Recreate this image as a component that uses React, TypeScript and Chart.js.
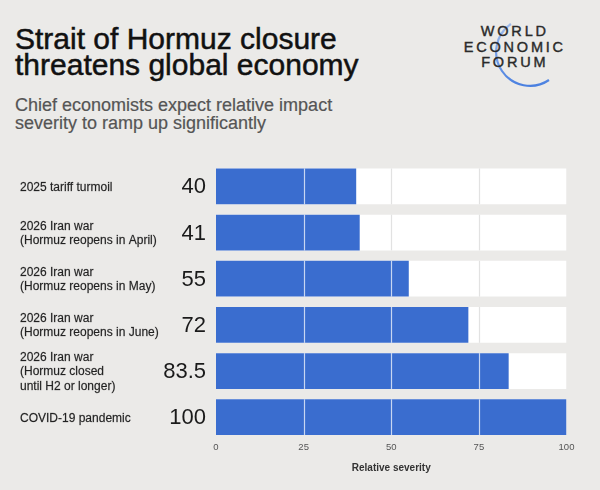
import React, { useEffect, useRef } from "react";
import { Chart, registerables } from "chart.js";

Chart.register(...registerables);

const categories: string[][] = [
  ["2025 tariff turmoil"],
  ["2026 Iran war", "(Hormuz reopens in April)"],
  ["2026 Iran war", "(Hormuz reopens in May)"],
  ["2026 Iran war", "(Hormuz reopens in June)"],
  ["2026 Iran war", "(Hormuz closed", "until H2 or longer)"],
  ["COVID-19 pandemic"],
];
const severity = [40, 41, 55, 72, 83.5, 100];
const valueLabels = ["40", "41", "55", "72", "83.5", "100"];
const trackMax = [100, 100, 100, 100, 100, 100];
const gridValues = [25, 50, 75];

const FONT = '"Liberation Sans", Arial, Helvetica, sans-serif';
const BLUE = "#3a6dcf";
const BG = "#ebeae8";

const gridPlugin = {
  id: "innerGrid",
  afterDatasetsDraw(chart: any) {
    const ctx = chart.ctx;
    const xs = chart.scales.x;
    const meta = chart.getDatasetMeta(1);
    ctx.save();
    meta.data.forEach((el: any, i: number) => {
      const p = el.getProps(["y", "height"], true);
      const top = p.y - p.height / 2;
      const bottom = p.y + p.height / 2;
      gridValues.forEach((v) => {
        const x = Math.round(xs.getPixelForValue(v)) + 0.5;
        ctx.strokeStyle = v < severity[i] ? "rgba(255,255,255,0.72)" : "#e2e2e2";
        ctx.lineWidth = 1.2;
        ctx.beginPath();
        ctx.moveTo(x, top);
        ctx.lineTo(x, bottom);
        ctx.stroke();
      });
    });
    ctx.restore();
  },
};

const labelPlugin = {
  id: "rowLabels",
  afterDraw(chart: any) {
    const ctx = chart.ctx;
    const ys = chart.scales.y;
    ctx.save();
    categories.forEach((lines, i) => {
      const cy = ys.getPixelForValue(i);
      const lh = 14.6;
      const start = cy - ((lines.length - 1) * lh) / 2;
      ctx.font = `12px ${FONT}`;
      ctx.fillStyle = "#222";
      ctx.strokeStyle = "rgba(34,34,34,0.5)";
      ctx.lineWidth = 0.35;
      ctx.textAlign = "left";
      ctx.textBaseline = "middle";
      lines.forEach((t, j) => {
        ctx.fillText(t, 20, start + j * lh + 1);
        ctx.strokeText(t, 20, start + j * lh + 1);
      });
      ctx.font = `22px ${FONT}`;
      ctx.fillStyle = "#1a1a1a";
      ctx.textAlign = "right";
      ctx.fillText(valueLabels[i], 206, cy + 1);
    });
    ctx.restore();
  },
};

export default function App() {
  const ref = useRef<HTMLCanvasElement>(null);
  useEffect(() => {
    if (!ref.current) return;
    const chart = new Chart(ref.current, {
      type: "bar",
      data: {
        labels: categories.map((c) => c.join(" ")),
        datasets: [
          {
            label: "Relative severity",
            data: severity,
            backgroundColor: BLUE,
            borderWidth: 0,
            grouped: false,
            order: 0,
            barPercentage: 0.775,
            categoryPercentage: 1,
          } as any,
          {
            label: "Track",
            data: trackMax,
            backgroundColor: "#ffffff",
            borderWidth: 0,
            grouped: false,
            order: 1,
            barPercentage: 0.775,
            categoryPercentage: 1,
          } as any,
        ],
      },
      options: {
        indexAxis: "y",
        animation: false,
        responsive: false,
        layout: { padding: { left: 216, right: 33.5, top: 163.3, bottom: 15.3 } },
        plugins: { legend: { display: false }, tooltip: { enabled: false } },
        scales: {
          x: {
            min: 0,
            max: 100,
            grid: { display: false, drawTicks: false },
            border: { display: false },
            ticks: {
              stepSize: 25,
              padding: 1,
              color: "#555",
              font: { family: FONT, size: 9.5 },
              maxRotation: 0,
            },
            title: {
              display: true,
              text: "Relative severity",
              color: "#333",
              font: { family: FONT, size: 10, weight: "bold" },
              padding: { top: 8.5, bottom: 0.5 },
            },
          },
          y: {
            display: false,
          },
        },
      },
      plugins: [gridPlugin, labelPlugin],
    });
    return () => chart.destroy();
  }, []);

  return (
    <div
      style={{
        position: "absolute",
        left: 0,
        top: 0,
        width: 600,
        height: 490,
        background: BG,
        overflow: "hidden",
        fontFamily: FONT,
      }}
    >
      <svg
        width={600}
        height={490}
        style={{ position: "absolute", left: 0, top: 0 }}
      >
        <defs>
          <linearGradient id="arcg" x1="0" y1="0" x2="0" y2="1">
            <stop offset="0" stopColor="#8fb0ea" stopOpacity="0.85" />
            <stop offset="0.6" stopColor="#6b98e6" />
            <stop offset="1" stopColor="#4a80e0" />
          </linearGradient>
        </defs>
        <path
          d="M 511 24 A 33 33 0 1 0 549 80"
          fill="none"
          stroke="url(#arcg)"
          strokeWidth={2.2}
        />
      </svg>
      <div
        style={{
          position: "absolute",
          left: 15,
          top: 25.6,
          fontSize: 30,
          lineHeight: "26px",
          color: "#111",
          whiteSpace: "nowrap",
          WebkitTextStroke: "0.5px #111",
        }}
      >
        Strait of Hormuz closure
        <br />
        threatens global economy
      </div>
      <div
        style={{
          position: "absolute",
          left: 15,
          top: 95.5,
          fontSize: 18,
          lineHeight: "18.5px",
          color: "#555",
          whiteSpace: "nowrap",
          WebkitTextStroke: "0.2px #555",
        }}
      >
        Chief economists expect relative impact
        <br />
        severity to ramp up significantly
      </div>
      <div
        style={{
          position: "absolute",
          left: 442,
          top: 24.4,
          width: 140,
          textAlign: "center",
          fontSize: 14.5,
          lineHeight: "15.5px",
          letterSpacing: "2.8px",
          paddingLeft: 2.8,
          color: "#2a2a2a",
          whiteSpace: "nowrap",
          WebkitTextStroke: "0.4px #2a2a2a",
        }}
      >
        WORLD
        <br />
        ECONOMIC
        <br />
        FORUM
      </div>
      <canvas
        ref={ref}
        width={600}
        height={490}
        style={{ position: "absolute", left: 0, top: 0 }}
      />
    </div>
  );
}
